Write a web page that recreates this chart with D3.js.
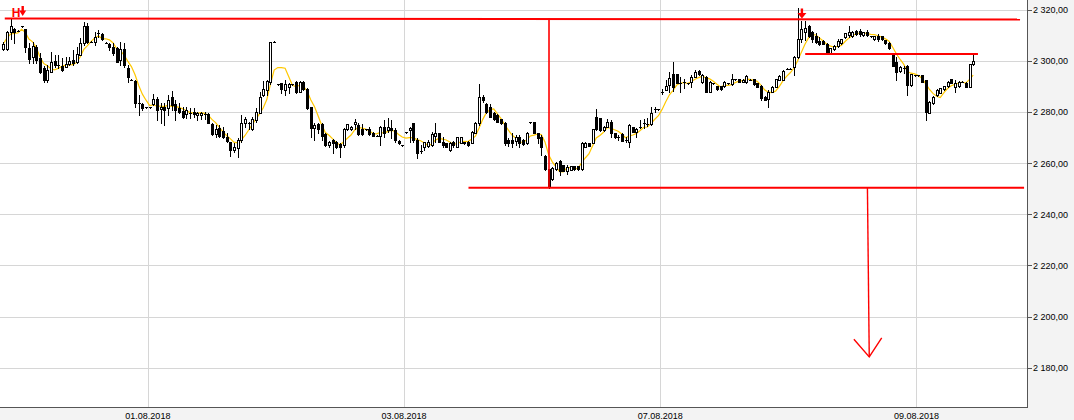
<!DOCTYPE html>
<html><head><meta charset="utf-8">
<script src="https://cdn.jsdelivr.net/npm/d3@7"></script>
<style>body{margin:0;background:#f3f3f3;overflow:hidden}svg{display:block}</style>
</head><body>
<svg id="chart" width="1074" height="420"></svg>
<script>
// 15-minute candles: [open, high, low, close]
const candles = [
[2304.7,2307.5,2304.3,2306.7],[2304.7,2311.8,2304.3,2311.4],[2311.4,2316.5,2308.6,2313.7],[2312.6,2312.9,2307.1,2311.4],[2311.8,2312,2311.6,2311.8],
[2313.7,2313.9,2313.5,2313.7],[2312.6,2312.6,2303.6,2305.5],[2305.1,2307.1,2299.2,2300.8],[2301.6,2307.5,2299.2,2305.9],[2305.5,2306.3,2299.2,2300.4],
[2301.2,2303.2,2295.3,2295.7],[2297.3,2298.1,2291.8,2292.6],[2292.6,2298.5,2291.8,2296.5],[2295.7,2303.6,2295.7,2299.6],[2300,2302.4,2297.7,2298.5],
[2298.5,2302.4,2297.3,2298.5],[2298.1,2301.2,2296.1,2296.5],[2297.7,2301.6,2297.7,2298.8],[2298.8,2301.6,2298.5,2300],[2300.4,2304.3,2298.5,2299.2],
[2299.6,2305.5,2299.2,2302.8],[2302.4,2309,2302.4,2307.1],[2307.1,2315.3,2306.3,2313.7],[2313.7,2314.9,2307.1,2307.5],[2307.5,2307.7,2307.3,2307.5],
[2307.5,2311.4,2306.3,2309.4],[2311,2312.2,2309.4,2311],[2310.6,2311,2308.2,2308.6],[2307.1,2307.3,2306.9,2307.1],[2306.7,2307.1,2304.3,2305.5],
[2305.5,2307.1,2302.4,2303.2],[2305.1,2305.5,2299.6,2299.6],[2300.4,2307.5,2298.5,2304.7],[2304.7,2307.1,2297.7,2298.5],[2297.3,2298.5,2291.8,2293.8],
[2292.6,2292.8,2292.4,2292.6],[2292.2,2292.6,2282,2283.6],[2283.6,2286.7,2278.9,2283.6],[2283.2,2283.6,2280.8,2281.6],[2282,2282.2,2281.8,2282],
[2282,2282.2,2281.8,2282],[2283.2,2287.1,2282.8,2285.2],[2285.2,2285.9,2276.9,2280.8],[2281.2,2283.6,2275.8,2282],[2282,2283.6,2275,2280.8],
[2281.6,2286.7,2278.9,2284.8],[2285.9,2288.3,2280.8,2282.8],[2283.2,2284.8,2276.9,2280.8],[2281.6,2283.6,2279.7,2280.1],[2280.5,2282,2277.7,2278.1],
[2279.3,2282,2277.7,2280.8],[2279.7,2281.6,2277.7,2279.7],[2280.1,2281.6,2278.1,2279.3],[2278.9,2280.1,2276.9,2279.7],[2278.9,2280.1,2277.3,2279.7],
[2279.2,2280.1,2277.3,2279.2],[2279.2,2279.7,2275.8,2275.9],[2275.3,2275.8,2271.1,2271.3],[2271.3,2275,2270.3,2273.4],[2273.7,2275,2270.3,2270.7],
[2272.6,2274.2,2269.9,2270.2],[2270.4,2271.8,2268.3,2268.8],[2268.2,2268.3,2262.8,2265.2],[2265.2,2267.9,2264.4,2266.5],[2265.9,2269.9,2262.5,2269.1],
[2269.1,2278.9,2268.3,2275.9],[2275.9,2278.1,2274.2,2277.2],[2275.9,2276.2,2273.4,2275.9],[2273.3,2278.1,2273,2277.2],[2276.9,2281.6,2276.2,2280.2],
[2279.8,2287.9,2279.7,2286],[2286.7,2292.2,2286.3,2288.9],[2288.7,2292.6,2286.7,2292.3],[2291.9,2307.6,2291,2307.6],[2307.6,2307.8,2307.4,2307.6],
[2290.9,2291.2,2290.6,2290.9],[2291.3,2291.4,2287.5,2288.9],[2288.7,2292.6,2286.7,2291],[2290,2291.4,2287.5,2290.9],[2291,2291.2,2290.8,2291],
[2291.9,2292.2,2287.5,2288],[2288,2292.2,2287.9,2291.9],[2291.9,2292.2,2288.7,2289],[2289,2289.3,2281.2,2281.5],[2281.9,2282,2270.2,2273.9],
[2273.7,2275.8,2269.1,2275],[2275.2,2275.8,2271.8,2273.5],[2275.2,2275.8,2269.1,2270.7],[2271.3,2271.8,2266.8,2267.1],[2267.1,2268.7,2266.4,2268.4],
[2269.1,2269.5,2264,2268],[2268.4,2268.7,2266,2266.2],[2267.5,2267.9,2262.5,2266.2],[2267.1,2273.8,2266.4,2273.3],[2273.3,2275.4,2273,2275.2],
[2273.3,2274.6,2273,2274.3],[2275.2,2277.3,2273.4,2276.3],[2275,2275.8,2271.1,2271.3],[2273.4,2275.4,2271.1,2271.5],[2273.4,2273.6,2273.2,2273.4],
[2273.4,2274.2,2271.1,2271.3],[2272,2272.2,2270.5,2270.7],[2270.7,2270.9,2270.5,2270.7],[2270.7,2274.6,2267.1,2274.3],[2274.1,2276.9,2270.3,2272],
[2273,2277.7,2272.2,2274.3],[2273.9,2276.9,2269.9,2273],[2273,2273.8,2268.3,2269.1],[2268.7,2269.1,2267.5,2267.8],[2267.1,2267.3,2266.9,2267.1],
[2272.1,2272.3,2271.9,2272.1],[2273,2274.2,2268.3,2273.9],[2275.6,2275.8,2268.3,2269.1],[2269.1,2269.9,2262.1,2264.1],[2264.9,2267.1,2264,2264.9],
[2266.5,2268.3,2265.2,2268.2],[2266.9,2269.1,2266.4,2268.4],[2267.1,2272.2,2266.8,2271.5],[2270.8,2275.8,2268.3,2272],[2271.7,2271.8,2268.3,2268.4],
[2268.4,2270.3,2266.4,2267.1],[2267.8,2268,2266.3,2266.5],[2265.2,2268.3,2264.8,2267.8],[2268.4,2268.7,2266.4,2267.1],[2266.5,2270.4,2266.3,2270.2],
[2268.1,2270.4,2267.9,2270.2],[2268.3,2268.5,2267.6,2267.8],[2268.4,2268.6,2266.9,2267.1],[2268,2272.6,2267.9,2272.3],[2272,2276.2,2271.8,2275.6],
[2275.6,2291,2275,2286.1],[2286.1,2286.7,2284,2284.8],[2283.2,2283.6,2279.7,2280.2],[2282.1,2283.2,2278.1,2278.2],[2279.8,2280.1,2276.9,2277.2],
[2278.9,2279.1,2276.1,2276.3],[2277.2,2277.4,2275.4,2275.6],[2275.6,2276.2,2267.1,2267.8],[2269.1,2269.9,2266.8,2267.8],[2269.1,2271.8,2266.4,2267.8],
[2268.8,2271.1,2267.1,2270.2],[2270.2,2271.1,2266.4,2267.8],[2269.1,2269.3,2267.3,2267.5],[2267.8,2272.2,2267.6,2272],[2276,2276.2,2275.8,2276],
[2276,2276.2,2271.7,2271.9],[2271.7,2271.8,2267.9,2269.8],[2270.4,2271.1,2263.2,2266.5],[2262.8,2263.2,2257.4,2257.6],[2257.6,2257.8,2250.5,2250.8],
[2253.7,2258.5,2253.4,2258],[2257.6,2260.3,2257.4,2260],[2260.9,2261.3,2255.4,2257.1],[2259.3,2259.5,2256.9,2257.1],[2257.1,2259.3,2255.8,2258.7],
[2257.4,2259.1,2257.2,2258.9],[2258.9,2259.1,2257.4,2257.6],[2258.9,2259.1,2257.4,2257.6],[2257.6,2268.3,2257.4,2268.1],[2266.5,2268.3,2266.3,2268.1],
[2267.9,2268.1,2266.6,2266.8],[2268.1,2273.5,2267.9,2273.3],[2278,2281.1,2273,2273.3],[2277.6,2277.8,2272.8,2273],[2273,2274.5,2272.8,2274.3],
[2274.3,2277.3,2274.2,2276.3],[2276.3,2276.9,2270.3,2271.7],[2271.7,2271.9,2270,2270.2],[2270.2,2271.1,2269.1,2270.2],[2271.5,2271.7,2268.6,2268.8],
[2269.1,2270.3,2268.3,2269.1],[2268.4,2275.4,2266.4,2275],[2274.1,2274.3,2272.1,2272.3],[2272.3,2273.8,2270.3,2273.3],[2274.3,2276.9,2273.8,2274.3],
[2275.6,2277.3,2273.8,2275.6],[2275.4,2277.7,2274.6,2275.4],[2275.4,2282,2275,2279.6],[2281.2,2282,2280.1,2281.2],[2281.2,2281.4,2281,2281.2],
[2288,2289.1,2287.1,2288],[2288.7,2292.6,2288.7,2290.2],[2290.6,2295.7,2287.9,2293.3],[2294.9,2299.7,2288.3,2290],[2294.9,2295.1,2291.3,2291.5],
[2291.5,2293.8,2287.9,2291.5],[2291.8,2293,2289.5,2291.8],[2291.3,2291.5,2291.1,2291.3],[2291.9,2294.5,2289.8,2293.9],[2293.9,2296.5,2293.8,2295.8],
[2296.2,2296.4,2294.7,2294.9],[2291.9,2294.9,2291.4,2294.5],[2293.9,2294.1,2287.8,2288],[2288,2292.1,2287.8,2291.9],[2291.3,2291.5,2291.1,2291.3],
[2290.2,2290.4,2288.7,2288.9],[2290.2,2290.4,2288.7,2288.9],[2290.2,2292.1,2290,2291.9],[2291.3,2291.5,2291.1,2291.3],[2290.9,2294.9,2290.6,2292.9],
[2292.9,2293.1,2292.7,2292.9],[2292.9,2293.1,2291.7,2291.9],[2291.9,2292.8,2291.7,2292.6],[2291.9,2294.5,2291.4,2294.2],[2292.6,2292.8,2292.4,2292.6],
[2292.9,2293.1,2290.7,2290.9],[2291.3,2291.5,2289.8,2290],[2290.2,2290.6,2284.8,2285.4],[2286.1,2286.3,2284.6,2284.8],[2285,2288.7,2281.9,2288],
[2288,2290.2,2287.8,2290],[2290,2293.1,2289.8,2292.9],[2292.6,2294.4,2292.4,2294.2],[2292.6,2296.5,2292.4,2296.2],[2296.9,2297.1,2296.7,2296.9],
[2296.9,2297.1,2296.7,2296.9],[2297.8,2302,2294.5,2301.7],[2301.7,2320.8,2301.2,2308.5],[2308.5,2315.8,2307.5,2312.4],[2311.5,2315.8,2308.2,2312.8],
[2313.7,2314,2309.6,2309.8],[2311.5,2311.9,2307.6,2308.5],[2309.8,2311,2307.2,2307.6],[2308,2309.5,2306.3,2306.7],[2308,2308.2,2306.5,2306.7],
[2306.7,2306.9,2303.1,2303.3],[2303.3,2305.2,2303.1,2305],[2304.6,2306.1,2304.4,2305.9],[2305.9,2308.6,2305.6,2308],[2307,2308.7,2306.8,2308.5],
[2309.3,2311.1,2309.1,2310.9],[2310.2,2313.7,2309.5,2311.5],[2309.8,2311.7,2309.6,2311.5],[2311.8,2312,2310.3,2310.5],[2311.8,2312.4,2309.8,2310.5],
[2310.2,2311.5,2310,2311.3],[2311.5,2312.2,2309.8,2310.2],[2309.8,2310,2309.6,2309.8],[2308.5,2310,2308.3,2309.8],[2309.8,2310.6,2308,2308.5],
[2309.8,2310,2308.3,2308.5],[2308.2,2308.4,2306.7,2306.9],[2307.2,2307.4,2304.8,2305],[2303,2303.2,2297.9,2298.1],[2299.8,2301.7,2292.6,2295.8],
[2296.1,2298,2295.9,2297.8],[2297.2,2298.1,2295.2,2297.2],[2298.1,2298.5,2286.7,2290.6],[2290.6,2295.1,2290.4,2294.9],[2294.5,2294.7,2294.3,2294.5],
[2294.5,2294.7,2294.3,2294.5],[2294.5,2294.7,2291.7,2291.9],[2292.6,2292.6,2276.9,2280.2],[2279.8,2284.3,2279.6,2284.1],[2283.5,2286.3,2283.3,2286.1],
[2286.7,2288.9,2286.5,2288.7],[2287.6,2289.5,2287.4,2289.3],[2289,2290.4,2288.8,2290.2],[2290.2,2292.1,2290,2291.9],[2292.9,2293.1,2291.3,2291.5],
[2289.7,2292.6,2288,2291.5],[2290.2,2292.1,2290,2291.9],[2291.9,2292.1,2291.7,2291.9],[2291.5,2291.7,2289.8,2290],[2290,2299,2289.8,2298.8],
[2298.7,2302.4,2298.5,2300]
];
const dayLabels = ["01.08.2018", "03.08.2018", "07.08.2018", "09.08.2018"];
const dayStartIndex = [40, 110, 180, 250];
const yTickValues = [2180, 2200, 2220, 2240, 2260, 2280, 2300, 2320];
const maPeriod = 5;
// annotations: [candle index, price]
const resistanceLine = [[0.4, 2316.7], [277.8, 2316.3]];
const supportLine = [[127.1, 2250.4], [278.9, 2250.4]];
const necklineRight = [[219.1, 2302.8], [266.3, 2302.8]];
const lowMarkerLine = [[149.1, 2316.7], [149.1, 2250.4]];
const targetLine = [[236.1, 2250.4], [236.6, 2184.2]];
const targetHead = [[232.4, 2191.1], [236.6, 2184.2], [240.0, 2191.7]];
const signalArrows = [{ i: 5.3, price: 2317.6, size: 3.5 }, { i: 218.2, price: 2316.7, size: 4.5 }];
const signalLabel = { i: 2.3, price: 2317.4, text: "H" };

const W = 1074, H = 420, plotR = 1027, plotB = 407;
const svg = d3.select("#chart");
const x = d3.scaleLinear().domain([0, candles.length - 1]).range([3.3, 973.2]);
const y = d3.scaleLinear().domain([2164.6, 2323.9]).range([plotB, 0]);
const fmt = d3.formatLocale({ decimal: ",", thousands: " ", grouping: [3], currency: ["", ""] }).format(",.2f");

svg.append("rect").attr("width", W).attr("height", H).attr("fill", "#f3f3f3");
svg.append("rect").attr("width", plotR).attr("height", plotB).attr("fill", "#fff");
svg.append("defs").append("clipPath").attr("id", "clip").append("rect").attr("width", plotR).attr("height", plotB);

// grid
const grid = svg.append("g").attr("shape-rendering", "crispEdges").attr("stroke", "#d6d6d6");
grid.selectAll("line.h").data(yTickValues).join("line")
  .attr("x1", 0).attr("x2", plotR).attr("y1", d => Math.round(y(d)) + 0.5).attr("y2", d => Math.round(y(d)) + 0.5);
grid.selectAll("line.v").data(dayStartIndex).join("line")
  .attr("y1", 0).attr("y2", plotB).attr("x1", d => Math.round(x(d - 0.5)) + 0.5).attr("x2", d => Math.round(x(d - 0.5)) + 0.5);

const plot = svg.append("g").attr("clip-path", "url(#clip)");

// moving average of closes
const closes = candles.map(d => d[3]);
const ma = closes.map((c, i) => d3.mean(closes.slice(Math.max(0, i - maPeriod + 1), i + 1)));
plot.append("path").datum(ma)
  .attr("fill", "none").attr("stroke", "#ffc800").attr("stroke-width", 1.2)
  .attr("d", d3.line().x((d, i) => x(i)).y(d => y(d)));

// candles
const cg = plot.append("g").attr("shape-rendering", "crispEdges");
const cx = i => Math.round(x(i));
cg.selectAll("line.wick").data(candles).join("line")
  .attr("x1", (d, i) => cx(i) + 0.5).attr("x2", (d, i) => cx(i) + 0.5)
  .attr("y1", d => Math.round(y(d[1]))).attr("y2", d => Math.round(y(d[2])) + 1)
  .attr("stroke", "#000");
const bodyTop = d => Math.round(y(Math.max(d[0], d[3])));
const bodyBot = d => Math.round(y(Math.min(d[0], d[3])));
cg.selectAll("rect.body").data(candles.map((d, i) => ({ d, i })).filter(o => bodyBot(o.d) - bodyTop(o.d) >= 1)).join("rect")
  .attr("x", o => cx(o.i) - 1 + 0.5).attr("width", 2)
  .attr("y", o => bodyTop(o.d) + 0.5).attr("height", o => bodyBot(o.d) - bodyTop(o.d))
  .attr("fill", o => o.d[3] >= o.d[0] ? "#fff" : "#000").attr("stroke", "#000");
cg.selectAll("line.doji").data(candles.map((d, i) => ({ d, i })).filter(o => bodyBot(o.d) - bodyTop(o.d) < 1)).join("line")
  .attr("x1", o => cx(o.i) - 1).attr("x2", o => cx(o.i) + 2)
  .attr("y1", o => bodyTop(o.d) + 0.5).attr("y2", o => bodyTop(o.d) + 0.5)
  .attr("stroke", "#000");

// annotations
const red = "#ff0000";
const line = d3.line().x(d => x(d[0])).y(d => y(d[1]));
const ann = svg.append("g").attr("fill", "none").attr("stroke", red);
ann.append("path").attr("d", line(resistanceLine)).attr("stroke-width", 2);
ann.append("path").attr("d", line(supportLine)).attr("stroke-width", 2);
ann.append("path").attr("d", line(necklineRight)).attr("stroke-width", 2);
ann.append("path").attr("d", line(lowMarkerLine)).attr("stroke-width", 1.6);
ann.append("path").attr("d", line(targetLine)).attr("stroke-width", 1.4);
ann.append("path").attr("d", line(targetHead)).attr("stroke-width", 1.4);

signalArrows.forEach(a => {
  const ax = x(a.i), ty = y(a.price), s = a.size;
  svg.append("path").attr("fill", red)
    .attr("d", `M${ax - 1.2},${ty - 10}H${ax + 1.2}V${ty - 5.5}H${ax + s}L${ax},${ty}L${ax - s},${ty - 5.5}H${ax - 1.2}Z`);
});
svg.append("text").attr("x", x(signalLabel.i)).attr("y", y(signalLabel.price))
  .attr("fill", red).attr("font-family", "'Liberation Sans Narrow', 'Liberation Sans', Arial, sans-serif")
  .attr("font-weight", "bold").attr("font-size", 12).text(signalLabel.text);

// frame
const frame = svg.append("g").attr("stroke", "#555").attr("shape-rendering", "crispEdges");
frame.append("line").attr("x1", plotR + 0.5).attr("x2", plotR + 0.5).attr("y1", 0).attr("y2", plotB + 1);
frame.append("line").attr("x1", 0).attr("x2", plotR + 1).attr("y1", plotB + 0.5).attr("y2", plotB + 0.5);

// y axis
const ya = svg.append("g").attr("font-family", "'Liberation Sans', Arial, sans-serif").attr("font-size", 9).attr("fill", "#000");
ya.selectAll("line").data(yTickValues).join("line")
  .attr("x1", plotR).attr("x2", plotR + 5).attr("y1", d => Math.round(y(d)) + 0.5).attr("y2", d => Math.round(y(d)) + 0.5)
  .attr("stroke", "#555").attr("shape-rendering", "crispEdges");
ya.selectAll("text").data(yTickValues).join("text")
  .attr("x", plotR + 6).attr("y", d => y(d) + 3.3).text(d => fmt(d));

// x axis
const xa = svg.append("g").attr("font-family", "'Liberation Sans', Arial, sans-serif").attr("font-size", 9).attr("fill", "#000");
xa.selectAll("text").data(dayStartIndex).join("text")
  .attr("x", d => x(d - 0.5)).attr("y", 419).attr("text-anchor", "middle")
  .text((d, i) => dayLabels[i]);
</script>
</body></html>
